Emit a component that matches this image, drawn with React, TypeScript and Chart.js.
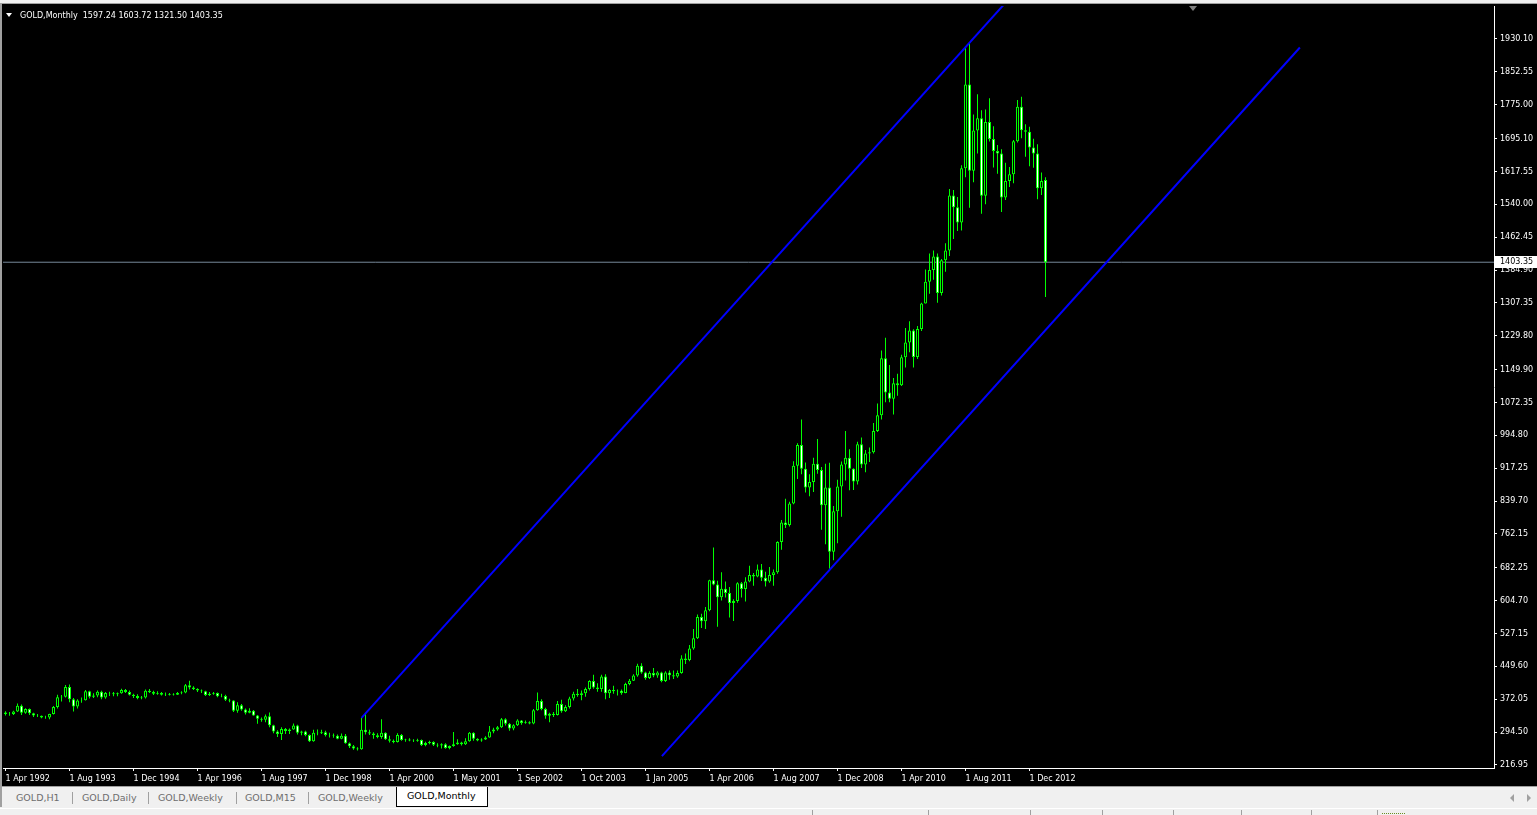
import React, { useEffect, useRef } from "react";
import { Chart, registerables } from "chart.js";

Chart.register(...registerables);

// ---------- data ----------
const symbolTitle = "GOLD,Monthly";
const headerValues = ["1597.24", "1603.72", "1321.50", "1403.35"];

const opens = [
  341, 337, 337, 343, 357, 340, 349, 339, 334, 333,
  329, 329, 337, 354, 377, 378, 401, 372, 355, 369,
  370, 391, 378, 381, 390, 376, 387, 386, 384, 386,
  394, 389, 383, 380, 375, 376, 392, 389, 385, 387,
  383, 382, 384, 383, 387, 388, 405, 400, 396, 393,
  391, 382, 385, 387, 379, 380, 371, 369, 345, 358,
  348, 340, 345, 334, 326, 324, 332, 311, 296, 290,
  302, 297, 301, 310, 293, 296, 288, 273, 293, 292,
  294, 288, 287, 286, 279, 286, 268, 261, 256, 254,
  300, 294, 291, 287, 283, 293, 278, 274, 271, 288,
  276, 277, 275, 274, 276, 264, 269, 271, 265, 263,
  266, 257, 262, 266, 270, 266, 273, 293, 279, 275,
  277, 282, 296, 301, 306, 325, 314, 303, 311, 322,
  316, 318, 315, 346, 368, 349, 333, 338, 335, 361,
  344, 354, 374, 385, 382, 386, 396, 415, 400, 396,
  426, 386, 394, 391, 392, 387, 408, 416, 428, 451,
  435, 422, 434, 428, 435, 415, 435, 429, 426, 434,
  468, 465, 492, 516, 566, 556, 582, 653, 643, 613,
  633, 623, 599, 604, 646, 632, 650, 665, 662, 678,
  659, 650, 665, 672, 743, 789, 783, 834, 923, 972,
  916, 872, 885, 928, 913, 830, 872, 720, 816, 874,
  926, 942, 916, 886, 974, 926, 952, 955, 1005, 1042,
  1177, 1096, 1081, 1118, 1113, 1179, 1214, 1242, 1180, 1246,
  1306, 1357, 1385, 1417, 1331, 1408, 1431, 1561, 1533, 1497,
  1625, 1823, 1619, 1714, 1743, 1560, 1734, 1694, 1666, 1660,
  1556, 1595, 1611, 1689, 1770, 1715, 1711, 1674, 1660, 1578,
  1597.24,
];
const highs = [
  344, 342, 345, 362, 360, 351, 350, 340, 337, 334,
  333, 338, 356, 383, 382, 406, 407, 375, 372, 376,
  394, 392, 386, 393, 392, 389, 390, 389, 388, 397,
  396, 393, 385, 384, 380, 395, 396, 392, 391, 389,
  388, 387, 386, 389, 391, 408, 416, 403, 398, 395,
  392, 389, 389, 388, 385, 383, 373, 370, 365, 361,
  350, 351, 347, 335, 329, 336, 341, 312, 299, 306,
  304, 303, 315, 312, 298, 298, 289, 300, 301, 300,
  298, 293, 291, 289, 291, 290, 270, 264, 259, 328,
  339, 300, 294, 292, 325, 294, 286, 277, 292, 290,
  279, 280, 278, 279, 277, 272, 274, 273, 268, 268,
  268, 263, 295, 278, 272, 280, 295, 294, 280, 280,
  285, 309, 305, 309, 328, 327, 316, 313, 325, 323,
  322, 320, 349, 388, 372, 352, 340, 342, 368, 371,
  358, 378, 390, 396, 393, 400, 417, 430, 410, 430,
  431, 396, 404, 395, 395, 411, 420, 431, 456, 457,
  437, 438, 446, 438, 437, 438, 440, 440, 440, 476,
  480, 500, 538, 572, 574, 590, 654, 730, 652, 672,
  650, 637, 608, 648, 649, 660, 687, 670, 690, 691,
  673, 684, 678, 745, 795, 845, 838, 934, 976, 1032,
  931, 903, 942, 986, 920, 928, 930, 828, 890, 933,
  1005, 962, 917, 980, 990, 960, 966, 1024, 1070, 1195,
  1225, 1161, 1130, 1140, 1185, 1248, 1264, 1245, 1253, 1308,
  1386, 1424, 1431, 1424, 1411, 1448, 1576, 1574, 1557, 1632,
  1911, 1920, 1752, 1800, 1762, 1764, 1790, 1724, 1680, 1670,
  1638, 1628, 1692, 1786, 1794, 1729, 1723, 1695, 1682, 1615,
  1603.72,
];
const lows = [
  334, 333, 335, 342, 335, 338, 335, 330, 330, 327,
  326, 325, 336, 350, 367, 376, 365, 343, 350, 364,
  369, 374, 375, 377, 372, 373, 380, 379, 379, 385,
  387, 381, 375, 372, 372, 374, 387, 382, 383, 381,
  380, 381, 381, 382, 384, 386, 395, 394, 389, 387,
  380, 380, 383, 377, 377, 368, 365, 342, 340, 345,
  336, 339, 333, 314, 319, 318, 306, 292, 283, 276,
  290, 290, 300, 289, 287, 285, 271, 272, 287, 290,
  284, 282, 281, 278, 278, 267, 257, 253, 251, 253,
  289, 288, 279, 280, 279, 276, 270, 268, 270, 274,
  272, 273, 271, 272, 262, 261, 266, 262, 259, 256,
  255, 254, 260, 265, 263, 264, 272, 274, 273, 272,
  276, 281, 292, 298, 304, 310, 298, 299, 309, 312,
  314, 313, 313, 345, 346, 326, 318, 330, 334, 340,
  342, 350, 369, 378, 370, 378, 393, 397, 390, 390,
  372, 375, 385, 381, 383, 386, 405, 415, 425, 432,
  418, 420, 424, 423, 412, 413, 418, 420, 423, 432,
  455, 462, 489, 514, 540, 538, 580, 641, 543, 605,
  612, 565, 557, 600, 612, 603, 648, 640, 660, 651,
  638, 647, 640, 668, 725, 776, 780, 832, 892, 903,
  860, 851, 861, 904, 772, 738, 680, 700, 740, 803,
  888, 865, 866, 879, 918, 908, 932, 952, 1003, 1032,
  1073, 1073, 1044, 1088, 1111, 1155, 1191, 1155, 1175, 1241,
  1306, 1329, 1362, 1308, 1325, 1381, 1418, 1458, 1477, 1478,
  1604, 1532, 1592, 1660, 1518, 1540, 1688, 1627, 1612, 1522,
  1550, 1581, 1590, 1686, 1696, 1652, 1630, 1626, 1552, 1562,
  1321.5,
];
const closes = [
  337, 337, 343, 357, 340, 349, 339, 334, 333, 329,
  329, 337, 354, 377, 378, 401, 372, 355, 369, 370,
  391, 378, 381, 390, 376, 387, 386, 384, 386, 394,
  389, 383, 380, 375, 376, 392, 389, 385, 387, 383,
  382, 384, 383, 387, 388, 405, 400, 396, 393, 391,
  382, 385, 387, 379, 380, 371, 369, 345, 358, 348,
  340, 345, 334, 326, 324, 332, 311, 296, 290, 302,
  297, 301, 310, 293, 296, 288, 273, 293, 292, 294,
  288, 287, 286, 279, 286, 268, 261, 256, 254, 300,
  294, 291, 287, 283, 293, 278, 274, 271, 288, 276,
  277, 275, 274, 276, 264, 269, 271, 265, 263, 266,
  257, 262, 266, 270, 266, 273, 293, 279, 275, 277,
  282, 296, 301, 306, 325, 314, 303, 311, 322, 316,
  318, 315, 346, 368, 349, 333, 338, 335, 361, 344,
  354, 374, 385, 382, 386, 396, 415, 400, 396, 426,
  386, 394, 391, 392, 387, 408, 416, 428, 451, 435,
  422, 434, 428, 435, 415, 435, 429, 426, 434, 468,
  465, 492, 516, 566, 556, 582, 653, 643, 613, 633,
  623, 599, 604, 646, 632, 650, 665, 662, 678, 659,
  650, 665, 672, 743, 789, 783, 834, 923, 972, 916,
  872, 885, 928, 913, 830, 872, 720, 816, 874, 926,
  942, 916, 886, 974, 926, 952, 955, 1005, 1042, 1177,
  1096, 1081, 1118, 1113, 1179, 1214, 1242, 1180, 1246, 1306,
  1357, 1385, 1417, 1331, 1408, 1431, 1561, 1533, 1497, 1625,
  1823, 1619, 1714, 1743, 1560, 1734, 1694, 1666, 1660, 1556,
  1595, 1611, 1689, 1770, 1715, 1711, 1674, 1660, 1578, 1595,
  1403.35,
];

const xTickLabels = [
  "1 Apr 1992", "1 Aug 1993", "1 Dec 1994", "1 Apr 1996", "1 Aug 1997",
  "1 Dec 1998", "1 Apr 2000", "1 May 2001", "1 Sep 2002", "1 Oct 2003",
  "1 Jan 2005", "1 Apr 2006", "1 Aug 2007", "1 Dec 2008", "1 Apr 2010",
  "1 Aug 2011", "1 Dec 2012",
];
const barsPerXLabel = 16;

const yTickValues = [
  1930.1, 1852.55, 1775.0, 1695.1, 1617.55, 1540.0, 1462.45, 1384.9,
  1307.35, 1229.8, 1149.9, 1072.35, 994.8, 917.25, 839.7, 762.15,
  682.25, 604.7, 527.15, 449.6, 372.05, 294.5, 216.95,
];

// channel anchor points: [bar index, price]
const channelUpper = [
  { x: 89, y: 328 },
  { x: 255, y: 2068 },
];
const channelLower = [
  { x: 164.1, y: 238 },
  { x: 323.6, y: 1910 },
];
const bidPrice = 1403.35;

const tabNames = ["GOLD,H1", "GOLD,Daily", "GOLD,Weekly", "GOLD,M15", "GOLD,Weekly", "GOLD,Monthly"];

// ---------- styling ----------
const LIME = "#00ff00";
const BULL_FILL = "#000000";
const BEAR_FILL = "#ffffff";
const CHANNEL_BLUE = "#0000ff";
const BID_GRAY = "#778899";
const AXIS_FONT = "'DejaVu Sans', 'Liberation Sans', sans-serif";

const X_MIN = -0.625;
const X_MAX = X_MIN + 1491 / 4;
const Y_MIN = 209.87;
const Y_MAX = 2007.97;

const priceBoxPlugin = {
  id: "priceBox",
  afterDraw(chart: any) {
    const ys = chart.scales.y;
    const y = ys.getPixelForValue(bidPrice);
    const ctx = chart.ctx;
    ctx.save();
    const top = Math.round(y) - 6;
    ctx.fillStyle = "#ffffff";
    ctx.fillRect(ys.left + 1, top, chart.width - ys.left - 1, 12);
    ctx.fillStyle = "#000000";
    ctx.font = `8px ${AXIS_FONT}`;
    ctx.textBaseline = "middle";
    ctx.textAlign = "left";
    ctx.fillText(bidPrice.toFixed(2), ys.left + 6, top + 6);
    ctx.restore();
  },
};

export default function App() {
  const canvasRef = useRef<HTMLCanvasElement | null>(null);

  useEffect(() => {
    const canvas = canvasRef.current;
    if (!canvas) return;

    const bodies = opens.map((o, i) => ({ x: i, y: [Math.min(o, closes[i]), Math.max(o, closes[i])] }));
    const wicks = lows.map((l, i) => ({ x: i, y: [l, highs[i]] }));
    const bodyColors = opens.map((o, i) => (closes[i] >= o ? BULL_FILL : BEAR_FILL));
    const bidLine = [
      { x: X_MIN - 2, y: bidPrice },
      { x: X_MAX + 2, y: bidPrice },
    ];

    const chart = new Chart(canvas, {
      type: "bar",
      data: {
        datasets: [
          {
            type: "line",
            data: bidLine,
            borderColor: BID_GRAY,
            borderWidth: 1,
            pointRadius: 0,
            order: 9,
          } as any,
          {
            type: "bar",
            data: wicks,
            backgroundColor: LIME,
            borderWidth: 0,
            grouped: false,
            categoryPercentage: 1,
            barPercentage: 1,
            maxBarThickness: 1,
            inflateAmount: 0,
            order: 5,
          } as any,
          {
            type: "bar",
            data: bodies,
            backgroundColor: bodyColors,
            borderColor: LIME,
            borderWidth: 1,
            borderSkipped: false,
            grouped: false,
            categoryPercentage: 1,
            barPercentage: 1,
            maxBarThickness: 3,
            inflateAmount: 0,
            order: 4,
          } as any,
          {
            type: "line",
            data: channelUpper,
            borderColor: CHANNEL_BLUE,
            borderWidth: 2,
            pointRadius: 0,
            order: 1,
          } as any,
          {
            type: "line",
            data: channelLower,
            borderColor: CHANNEL_BLUE,
            borderWidth: 2,
            pointRadius: 0,
            order: 1,
          } as any,
        ],
      },
      options: {
        animation: false,
        responsive: false,
        devicePixelRatio: 1,
        events: [],
        layout: { padding: { left: 3, top: 1, right: 0, bottom: 0 } },
        plugins: { legend: { display: false }, tooltip: { enabled: false } },
        scales: {
          x: {
            type: "linear",
            min: X_MIN,
            max: X_MAX,
            bounds: "data",
            offset: false,
            grid: {
              display: true,
              drawOnChartArea: false,
              drawTicks: true,
              tickLength: 3,
              color: "#ffffff",
              offset: false,
            },
            border: { display: true, color: "#ffffff", width: 1 },
            ticks: {
              autoSkip: false,
              maxRotation: 0,
              minRotation: 0,
              align: "start",
              padding: 3,
              color: "#ffffff",
              font: { family: AXIS_FONT, size: 8 },
              callback: (v: any) => {
                const k = Math.round(Number(v) / barsPerXLabel);
                return xTickLabels[k] ?? "";
              },
            },
            afterBuildTicks: (scale: any) => {
              scale.ticks = xTickLabels.map((_, k) => ({ value: k * barsPerXLabel }));
            },
            afterFit: (scale: any) => {
              scale.height = 18;
              scale.paddingLeft = 0;
              scale.paddingRight = 0;
            },
          },
          y: {
            type: "linear",
            position: "right",
            min: Y_MIN,
            max: Y_MAX,
            bounds: "data",
            grid: {
              display: true,
              drawOnChartArea: false,
              drawTicks: true,
              tickLength: 3,
              color: "#ffffff",
            },
            border: { display: true, color: "#ffffff", width: 1 },
            ticks: {
              autoSkip: false,
              padding: 3,
              color: "#ffffff",
              font: { family: AXIS_FONT, size: 8 },
              callback: (v: any) => Number(v).toFixed(2),
            },
            afterBuildTicks: (scale: any) => {
              scale.ticks = yTickValues.map((v) => ({ value: v }));
            },
            afterFit: (scale: any) => {
              scale.width = 43;
              scale.paddingTop = 0;
              scale.paddingBottom = 0;
            },
          },
        },
        elements: { line: { tension: 0 } },
      } as any,
      plugins: [priceBoxPlugin],
    });

    return () => chart.destroy();
  }, []);

  const tabFont = "'DejaVu Sans', 'Liberation Sans', sans-serif";

  return (
    <div
      style={{
        position: "fixed",
        left: 0,
        top: 0,
        width: 1537,
        height: 815,
        background: "#000000",
        overflow: "hidden",
      }}
    >
      {/* top window strip */}
      <div style={{ position: "absolute", left: 0, top: 0, width: 1537, height: 3, background: "#f0f0f0" }} />
      <div style={{ position: "absolute", left: 0, top: 3, width: 1537, height: 1, background: "#a0a0a0" }} />
      {/* left window edge */}
      <div style={{ position: "absolute", left: 0, top: 3, width: 2, height: 784, background: "#a0a0a0" }} />

      <canvas
        ref={canvasRef}
        width={1537}
        height={781}
        style={{ position: "absolute", left: 0, top: 5, width: 1537, height: 781 }}
      />

      {/* header */}
      <div
        style={{
          position: "absolute",
          left: 6,
          top: 13,
          width: 0,
          height: 0,
          borderLeft: "3px solid transparent",
          borderRight: "3px solid transparent",
          borderTop: "4px solid #ffffff",
        }}
      />
      <div
        style={{
          position: "absolute",
          left: 20,
          top: 10,
          color: "#ffffff",
          fontFamily: AXIS_FONT,
          fontSize: 8,
          lineHeight: "11px",
          whiteSpace: "pre",
        }}
      >
        {symbolTitle + "  " + headerValues.join(" ")}
      </div>
      {/* chart shift marker */}
      <div
        style={{
          position: "absolute",
          left: 1189,
          top: 6,
          width: 0,
          height: 0,
          borderLeft: "4px solid transparent",
          borderRight: "4px solid transparent",
          borderTop: "5px solid #808080",
        }}
      />

      {/* tab bar */}
      <div
        style={{
          position: "absolute",
          left: 0,
          top: 786,
          width: 1537,
          height: 29,
          background: "#f0f0f0",
          borderTop: "1px solid #a0a0a0",
          boxSizing: "border-box",
        }}
      />
      <div style={{ position: "absolute", left: 0, top: 787, width: 2, height: 20, background: "#a0a0a0" }} />
      {(() => {
        const lefts = [16, 82, 158, 245, 318];
        const seps = [72, 148, 236, 308];
        const items: any[] = [];
        tabNames.slice(0, 5).forEach((name, i) => {
          items.push(
            <div
              key={"t" + i}
              style={{
                position: "absolute",
                left: lefts[i],
                top: 791,
                color: "#6d6d6d",
                fontFamily: tabFont,
                fontSize: 9.5,
                lineHeight: "14px",
                whiteSpace: "pre",
              }}
            >
              {name}
            </div>
          );
        });
        seps.forEach((x, i) =>
          items.push(
            <div key={"s" + i} style={{ position: "absolute", left: x, top: 792, width: 1, height: 12, background: "#a0a0a0" }} />
          )
        );
        return items;
      })()}
      <div
        style={{
          position: "absolute",
          left: 396,
          top: 787,
          width: 92,
          height: 20,
          background: "#ffffff",
          borderLeft: "1px solid #000",
          borderRight: "1px solid #000",
          borderBottom: "1px solid #000",
          boxSizing: "border-box",
          color: "#000000",
          fontFamily: tabFont,
          fontSize: 9.5,
          lineHeight: "18px",
          paddingLeft: 10,
          whiteSpace: "pre",
        }}
      >
        {tabNames[5]}
      </div>
      {/* scroll arrows */}
      <div
        style={{
          position: "absolute",
          left: 1510,
          top: 794,
          width: 0,
          height: 0,
          borderTop: "4px solid transparent",
          borderBottom: "4px solid transparent",
          borderRight: "4px solid #a0a0a0",
        }}
      />
      <div
        style={{
          position: "absolute",
          left: 1527,
          top: 794,
          width: 0,
          height: 0,
          borderTop: "4px solid transparent",
          borderBottom: "4px solid transparent",
          borderLeft: "4px solid #a0a0a0",
        }}
      />
      {/* status bar */}
      <div style={{ position: "absolute", left: 0, top: 808, width: 1537, height: 1, background: "#ffffff" }} />
      {[812, 928, 1030, 1102, 1173, 1241, 1311, 1377].map((x, i) => (
        <div key={"sb" + i} style={{ position: "absolute", left: x, top: 810, width: 1, height: 5, background: "#a0a0a0" }} />
      ))}
      <div style={{ position: "absolute", left: 1382, top: 813, width: 23, height: 1, borderTop: "1px dotted #6b8e23" }} />
    </div>
  );
}
